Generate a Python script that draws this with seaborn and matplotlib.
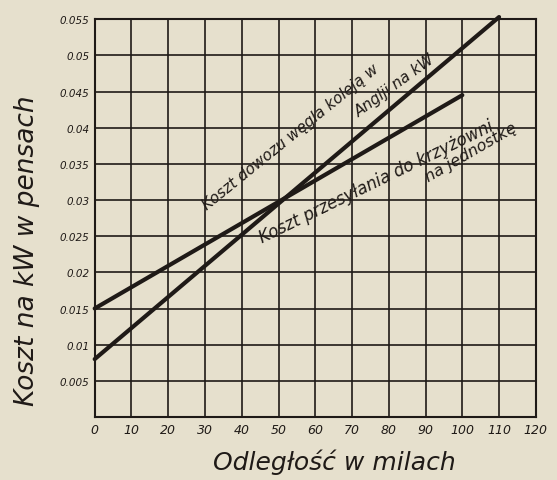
import numpy as np
import pandas as pd
import matplotlib
matplotlib.use("Agg")
import matplotlib.pyplot as plt
import seaborn as sns

# values
coal_miles = [0, 100, 110]
coal_cost = [0.008, 0.051, 0.0553]
trans_miles = [0, 100]
trans_cost = [0.015, 0.0445]

x_ticks = list(range(0, 121, 10))
y_ticks = [0.005, 0.01, 0.015, 0.02, 0.025, 0.03, 0.035, 0.04, 0.045, 0.05, 0.055]
y_tick_labels = ["0.005", "0.01", "0.015", "0.02", "0.025", "0.03",
                 "0.035", "0.04", "0.045", "0.05", "0.055"]

paper = "#e6e0cd"
ink = "#1f1a17"

sns.set_style("white", {"axes.facecolor": paper, "figure.facecolor": paper})
plt.rcParams['font.family'] = ['DejaVu Sans']

df = pd.concat([
    pd.DataFrame({"miles": coal_miles, "cost": coal_cost, "line": "coal"}),
    pd.DataFrame({"miles": trans_miles, "cost": trans_cost, "line": "trans"}),
])

fig = plt.figure(figsize=(5.57, 4.81), dpi=100)
ax = fig.add_axes([0.170, 0.131, 0.792, 0.827])

sns.lineplot(
    data=df,
    x="miles",
    y="cost",
    units="line",
    estimator=None,
    color=ink,
    linewidth=3,
    ax=ax,
    clip_on=False,
    zorder=5,
)

ax.set_xlim(0, 120)
ax.set_ylim(0, 0.055)
ax.set_xticks(x_ticks)
ax.set_xticklabels([str(v) for v in x_ticks], style="italic", fontsize=9, color=ink)
ax.set_yticks(y_ticks)
ax.set_yticklabels(y_tick_labels, style="italic", fontsize=7.5, color=ink)
ax.grid(True, color=ink, linewidth=1.2)
for s in ax.spines.values():
    s.set_color(ink)
    s.set_linewidth(1.5)
ax.tick_params(length=0, pad=4)

ax.set_xlabel("Odległość w milach", style="italic", fontsize=18, color=ink)
ax.set_ylabel("Koszt na kW w pensach", style="italic", fontsize=19, color=ink)
ax.xaxis.set_label_coords(0.544, -0.08)
ax.yaxis.set_label_coords(-0.125, 0.42)

ax.text(31, 0.0283, "Koszt dowozu węgla koleją w", rotation=39, style="italic",
        fontsize=11, color=ink, ha="left", va="bottom", rotation_mode="anchor")
ax.text(72.5, 0.0412, "Anglji na kW", rotation=36, style="italic",
        fontsize=11, color=ink, ha="left", va="bottom", rotation_mode="anchor")
ax.text(46, 0.0236, "Koszt przesyłania do krzyżowni", rotation=26, style="italic",
        fontsize=12, color=ink, ha="left", va="bottom", rotation_mode="anchor")
ax.text(91.3, 0.0322, "na jednostkę", rotation=30, style="italic",
        fontsize=11.5, color=ink, ha="left", va="bottom", rotation_mode="anchor")

fig.savefig("out.png", dpi=100, facecolor=paper)
